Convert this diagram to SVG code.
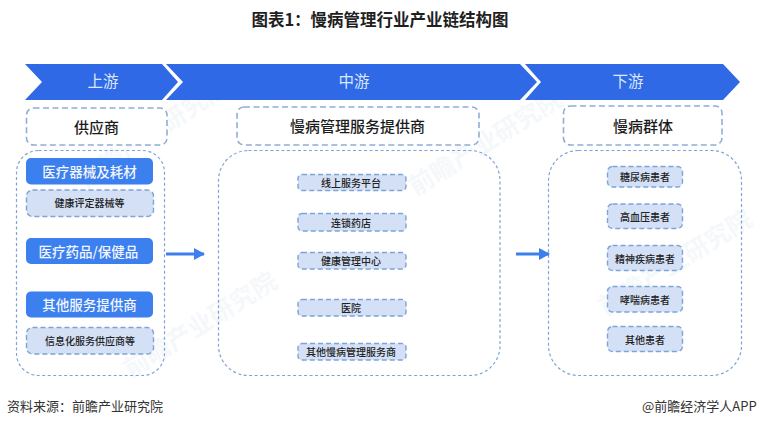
<svg xmlns="http://www.w3.org/2000/svg" width="760" height="427" viewBox="0 0 760 427">
<style>
text{font-family:"Noto Sans CJK SC","Liberation Sans",sans-serif;text-anchor:middle}
.ban{fill:#2f69e6}
.bt{fill:#dce8fb;font-size:15.5px}
.head{fill:#fff;stroke:#8fadd8;stroke-width:1.6;stroke-dasharray:6 3.5}
.ht{fill:#1c1c1c;font-size:15px;font-weight:500}
.outer{fill:none;stroke:#7fa3d6;stroke-width:1.2;stroke-dasharray:3 2.5}
.blue{fill:#3c7fee}
.wt{fill:#f2f6fd;font-size:13.500px;font-weight:500}
.lt{fill:#d3e0f6;stroke:#7fa3d6;stroke-width:1.4;stroke-dasharray:5 3}
.st{fill:#222;font-size:10px;font-weight:500}
.wm{fill:#5a7fb8;opacity:.05;font-size:25px;font-weight:700}
.foot{fill:#333;font-size:13px;text-anchor:start}
.arr{stroke:#3c7fee;stroke-width:3.2;fill:none;marker-end:url(#ah)}
</style>
<defs>
<marker id="ah" markerUnits="userSpaceOnUse" markerWidth="11" markerHeight="12" refX="10" refY="6" orient="auto"><path d="M0 0L11 6L0 12Z" fill="#3c7fee"/></marker>
</defs>
<rect width="760" height="427" fill="#fff"/>
<g id="watermarks">
<text class="wm" transform="translate(158 140) rotate(-34)">前瞻产业研究院</text>
<text class="wm" transform="translate(490 150) rotate(-32)">前瞻产业研究院</text>
<text class="wm" transform="translate(205 332) rotate(-32)">前瞻产业研究院</text>
<text class="wm" transform="translate(680 270) rotate(-32)">前瞻产业研究院</text>
</g>
<text id="title" x="380" y="26" style="font-size:16.5px;font-weight:700;fill:#1f1f1f">图表1&#xFF1A;慢病管理行业产业链结构图</text>
<g id="stage-up"><polygon class="ban" points="25,64 162,64 178,82 162,100 25,100 42,82"/><text class="bt" x="103" y="87">上游</text></g>
<g id="stage-mid"><polygon class="ban" points="166,64 520,64 537,82 520,100 166,100 183,82"/><text class="bt" x="354" y="87">中游</text></g>
<g id="stage-down"><polygon class="ban" points="525,64 723,64 740,82 723,100 525,100 541,82"/><text class="bt" x="628" y="87">下游</text></g>
<g id="up-head"><rect class="head" x="26.500" y="108" width="140.500" height="37" rx="7"/><text class="ht" x="96.500" y="133">供应商</text></g>
<g id="mid-head"><rect class="head" x="237" y="107" width="242" height="38" rx="7"/><text class="ht" x="357.500" y="132">慢病管理服务提供商</text></g>
<g id="down-head"><rect class="head" x="563.500" y="106" width="158.500" height="39" rx="7"/><text class="ht" x="643" y="132">慢病群体</text></g>
<g id="up-group"><rect class="outer" x="16.500" y="150.500" width="148" height="225" rx="22"/></g>
<g id="mid-group"><rect class="outer" x="218.500" y="150.500" width="281.500" height="225" rx="30"/></g>
<g id="down-group"><rect class="outer" x="548.500" y="150.500" width="193" height="225" rx="30"/></g>
<g id="n-a1"><rect class="blue" x="26" y="158" width="127" height="26.500" rx="5"/><text class="wt" x="89.500" y="177">医疗器械及耗材</text></g>
<g id="n-a2"><rect class="lt" x="26.500" y="190" width="127" height="26.500" rx="6"/><text class="st" x="89.500" y="207">健康评定器械等</text></g>
<g id="n-a3"><rect class="blue" x="26" y="238" width="127" height="26" rx="5"/><text class="wt" x="88.500" y="256.500">医疗药品/保健品</text></g>
<g id="n-a4"><rect class="blue" x="26" y="291.500" width="127" height="26" rx="5"/><text class="wt" x="89.500" y="310">其他服务提供商</text></g>
<g id="n-a5"><rect class="lt" x="26.500" y="327.500" width="127" height="26.500" rx="6"/><text class="st" x="90" y="345">信息化服务供应商等</text></g>
<g id="n-b1"><rect class="lt" x="298" y="174.500" width="108" height="16" rx="4"/><text class="st" x="351" y="187">线上服务平台</text></g>
<g id="n-b2"><rect class="lt" x="298" y="213.500" width="108" height="17.500" rx="4"/><text class="st" x="351" y="226.500">连锁药店</text></g>
<g id="n-b3"><rect class="lt" x="298" y="252.500" width="108" height="16.500" rx="4"/><text class="st" x="351" y="265">健康管理中心</text></g>
<g id="n-b4"><rect class="lt" x="298" y="299.500" width="108" height="16.500" rx="4"/><text class="st" x="351" y="312">医院</text></g>
<g id="n-b5"><rect class="lt" x="298" y="343.500" width="108" height="16.500" rx="4"/><text class="st" x="351" y="356">其他慢病管理服务商</text></g>
<g id="n-c1"><rect class="lt" x="607.500" y="166.500" width="75" height="20.500" rx="5"/><text class="st" x="645" y="181">糖尿病患者</text></g>
<g id="n-c2"><rect class="lt" x="607.500" y="204" width="75" height="24.500" rx="5"/><text class="st" x="645" y="221">高血压患者</text></g>
<g id="n-c3"><rect class="lt" x="607.500" y="245.500" width="75" height="25" rx="5"/><text class="st" x="645" y="263">精神疾病患者</text></g>
<g id="n-c4"><rect class="lt" x="607.500" y="286.500" width="75" height="25.500" rx="5"/><text class="st" x="645" y="304">哮喘病患者</text></g>
<g id="n-c5"><rect class="lt" x="607.500" y="326.500" width="75" height="25" rx="5"/><text class="st" x="645" y="344">其他患者</text></g>
<g id="connectors">
<line class="arr" x1="166" y1="254" x2="204" y2="254"/>
<line class="arr" x1="516" y1="254" x2="549" y2="254"/>
</g>
<text class="foot" x="7" y="411">资料来源&#xFF1A;前瞻产业研究院</text>
<text class="foot" x="642" y="411">@前瞻经济学人APP</text>
</svg>
